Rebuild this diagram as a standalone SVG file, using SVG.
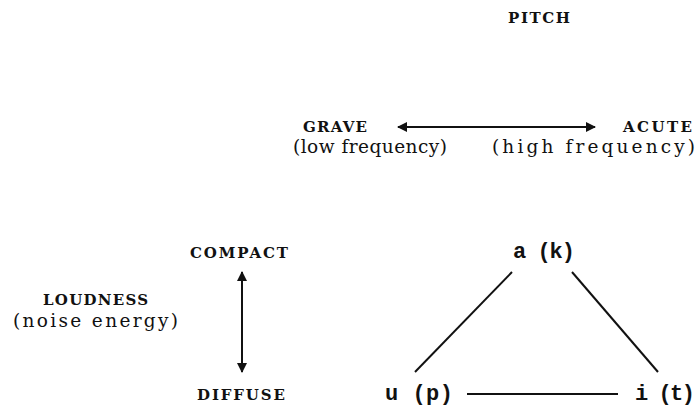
<svg xmlns="http://www.w3.org/2000/svg" width="696" height="406" viewBox="0 0 696 406">
<style>
.cap{font-family:"DejaVu Serif",serif;font-weight:bold;font-size:15px;fill:#111}
.lo{font-family:"DejaVu Serif",serif;font-size:18.5px;fill:#111}
.ph{font-family:"Liberation Mono",monospace;font-weight:bold;font-size:22px;fill:#111}
.ln{stroke:#111;stroke-width:2;fill:none}
</style>
<defs>
<marker id="ah" viewBox="0 0 10 10" refX="9" refY="5" markerWidth="5" markerHeight="5" orient="auto-start-reverse">
<path d="M0,0 L10,5 L0,10 z" fill="#111"/>
</marker>
</defs>
<rect width="696" height="406" fill="#fff"/>
<g id="pitch"><text class="cap" x="508" y="23" textLength="62">PITCH</text></g>
<g id="grave">
<text class="cap" x="303" y="132" textLength="64">GRAVE</text>
<text class="lo" x="293" y="153" textLength="154">(low frequency)</text>
</g>
<g id="acute">
<text class="cap" x="623" y="132" textLength="69">ACUTE</text>
<text class="lo" x="492" y="153" textLength="203">(high  frequency)</text>
</g>
<g id="loudness">
<text class="cap" x="43" y="305" textLength="105">LOUDNESS</text>
<text class="lo" x="13" y="327" textLength="165">(noise  energy)</text>
</g>
<g id="compact"><text class="cap" x="190" y="258" textLength="98">COMPACT</text></g>
<g id="diffuse"><text class="cap" x="197" y="400" textLength="88">DIFFUSE</text></g>
<g id="a"><text class="ph" x="513" y="258" textLength="62">a (k)</text></g>
<g id="u"><text class="ph" x="385" y="400" textLength="68">u (p)</text></g>
<g id="i"><text class="ph" x="635" y="400" textLength="60">i (t)</text></g>
<g id="connectors">
<line class="ln" x1="398" y1="127" x2="595" y2="127" marker-start="url(#ah)" marker-end="url(#ah)"/>
<line class="ln" x1="242" y1="272" x2="242" y2="372" marker-start="url(#ah)" marker-end="url(#ah)"/>
<line class="ln" x1="512" y1="272" x2="415" y2="372"/>
<line class="ln" x1="572" y1="272" x2="658" y2="372"/>
<line class="ln" x1="467" y1="394" x2="618" y2="394"/>
</g>
</svg>
